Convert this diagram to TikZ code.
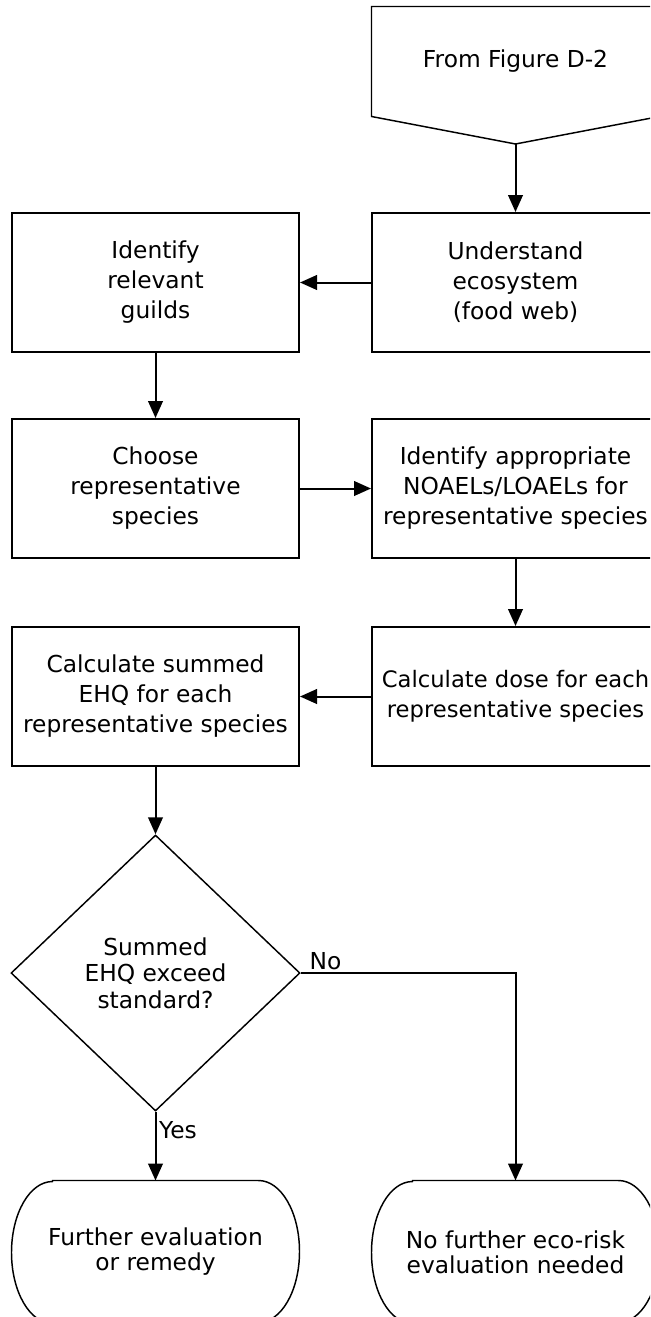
\documentclass[tikz,border=0pt]{standalone}
\usepackage{fontspec}
\setmainfont{DejaVu Sans}
\usetikzlibrary{arrows.meta,shapes.geometric}

\tikzset{every picture/.style={line width=0.75pt}}
\tikzset{
  stepbox/.style={draw, line width=1.5pt, minimum width=215.25pt, minimum height=104.25pt,
    inner sep=0pt, align=center, font=\fontsize{17.5}{22.5}\selectfont},
  decide/.style={draw, diamond, line width=1.1pt, minimum width=216.75pt, minimum height=207pt,
    inner sep=0pt, align=center, font=\fontsize{17.5}{20}\selectfont},
  endbox/.style={minimum width=215.25pt, minimum height=106.5pt, inner sep=0pt,
    align=center, font=\fontsize{17.5}{18.75}\selectfont},
  flow/.style={line width=1.5pt, -{Triangle[length=12.75pt,width=11pt]}},
  lbl/.style={inner sep=2pt, font=\fontsize{17.5}{20}\selectfont},
}
% terminator outline round a named endbox node (y axis is flipped)
\newcommand{\termoutline}[1]{%
  \draw[line width=1.1pt] ([xshift=30.75pt]#1.north west) -- ([xshift=-30.75pt]#1.north east)
    arc[start angle=-90, end angle=90, x radius=30.75pt, y radius=53.25pt]
    -- ([xshift=30.75pt]#1.south west)
    arc[start angle=90, end angle=270, x radius=30.75pt, y radius=53.25pt] -- cycle;}

\begin{document}
\begin{tikzpicture}[x=0.75pt,y=0.75pt,yscale=-1,xscale=1]
        \useasboundingbox (0,0) rectangle (650,1317);
        \clip (0,0) rectangle (650,1317);

        %Flowchart: Off-page Connector
        \node [minimum width=215.25pt, minimum height=81.75pt, inner sep=0pt,
          font=\fontsize{17.5}{22.5}\selectfont] (src) at (515.5,61.5) {From Figure D-2};
        \coordinate (tip) at (515.5,144);
        \draw [line width=1.1pt] (src.south west) -- (src.north west) -- (src.north east)
          -- (src.south east) -- (tip) -- cycle ;

        %Flowchart: Process
        \node [stepbox] (eco) at (515.5,282.5) {Understand\\ecosystem\\(food web)};
        \node [stepbox] (guilds) at (155.5,282.5) {Identify\\relevant\\guilds};
        \node [stepbox] (choose) at (155.5,488.5) {Choose\\representative\\species};
        \node [stepbox] (noael) at (515.5,488.5) {Identify appropriate\\NOAELs/LOAELs for\\representative species};
        \node [stepbox, font=\fontsize{17}{22.5}\selectfont] (dose) at (515.5,696.5) {Calculate dose for each\\representative species};
        \node [stepbox] (ehq) at (155.5,696.5) {Calculate summed\\EHQ for each\\representative species};

        %Flowchart: Decision
        \node [decide] (test) at (155.5,973) {Summed\\EHQ exceed\\standard?};

        %Flowchart: Terminator
        \node [endbox] (further) at (155.5,1252) {Further evaluation\\or remedy};
        \termoutline{further}
        \node [endbox] (nofurther) at (515.5,1252) {No further eco-risk\\evaluation needed};
        \termoutline{nofurther}

        %Connectors
        \draw [flow] (tip) -- (eco.north) ;
        \draw [flow] (eco.west) -- (guilds.east) ;
        \draw [flow] (guilds.south) -- (choose.north) ;
        \draw [flow] (choose.east) -- (noael.west) ;
        \draw [flow] (noael.south) -- (dose.north) ;
        \draw [flow] (dose.west) -- (ehq.east) ;
        \draw [flow] (ehq.south) -- (test.north) ;
        \draw [flow] (test.south) -- node [lbl, pos=0.27, anchor=west] {Yes} (further.north) ;
        \draw [flow] (test.east) -- node [lbl, pos=0, anchor=south west, xshift=4pt] {No} ++(0,0) -| (nofurther.north) ;

    \end{tikzpicture}
\end{document}
